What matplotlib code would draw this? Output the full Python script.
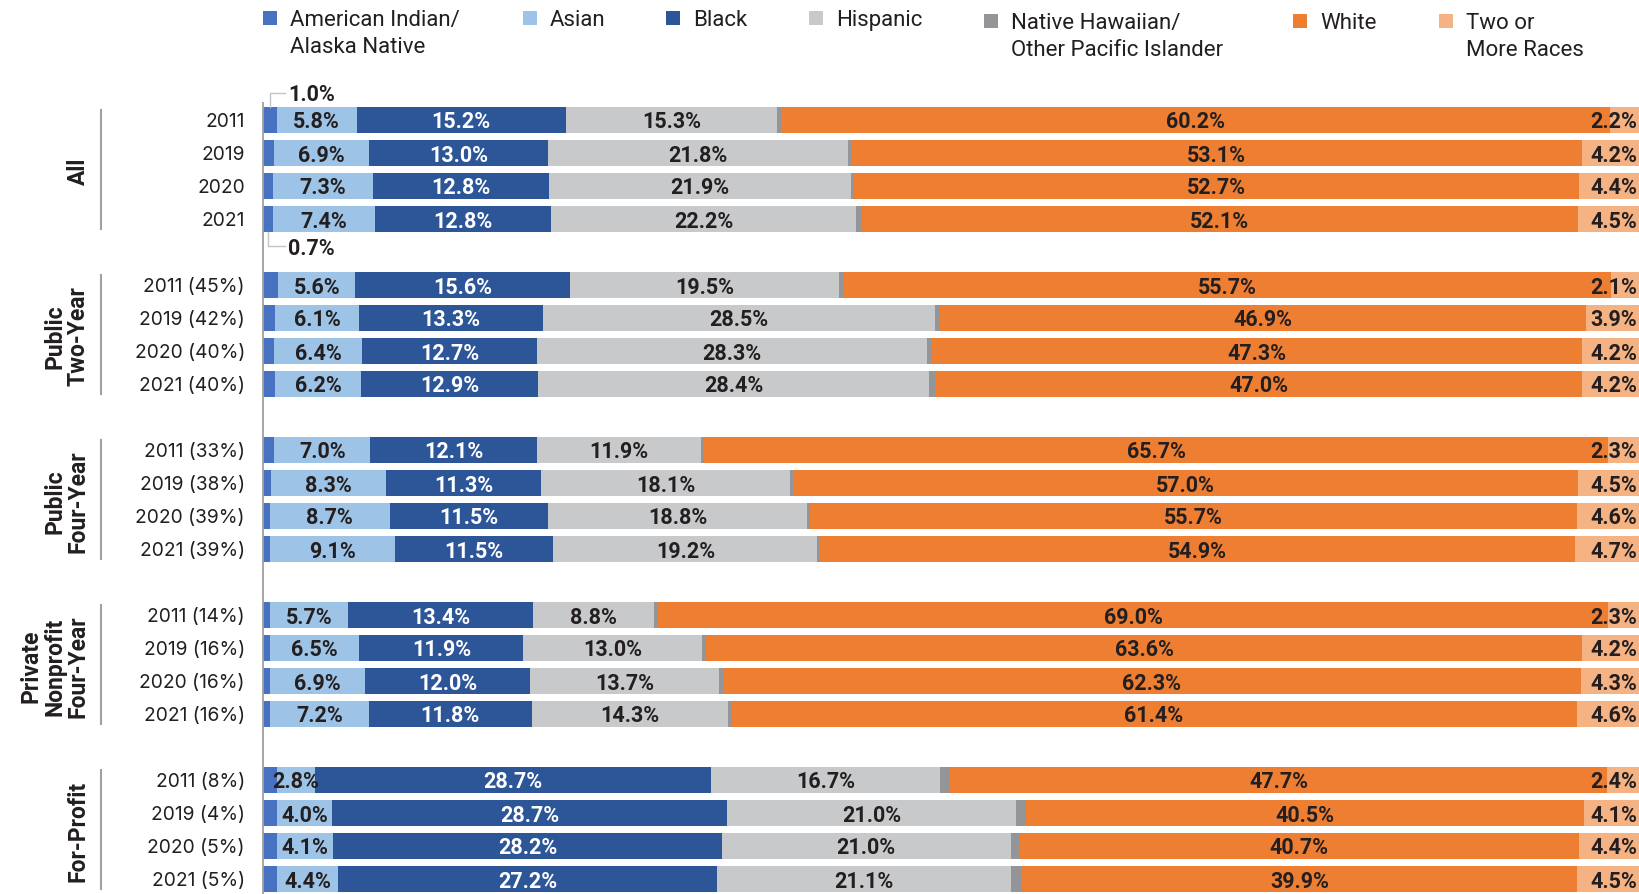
import matplotlib
matplotlib.use("Agg")
import matplotlib.pyplot as plt
from matplotlib.patches import Rectangle
import numpy as np

# ---------------- data ----------------
groups = ["All", "Public\nTwo-Year", "Public\nFour-Year", "Private\nNonprofit\nFour-Year", "For-Profit"]
row_labels = [
    "2011", "2019", "2020", "2021",
    "2011 (45%)", "2019 (42%)", "2020 (40%)", "2021 (40%)",
    "2011 (33%)", "2019 (38%)", "2020 (39%)", "2021 (39%)",
    "2011 (14%)", "2019 (16%)", "2020 (16%)", "2021 (16%)",
    "2011 (8%)", "2019 (4%)", "2020 (5%)", "2021 (5%)",
]
series_names = ["American Indian/\nAlaska Native", "Asian", "Black", "Hispanic",
                "Native Hawaiian/\nOther Pacific Islander", "White", "Two or\nMore Races"]

am_indian = [1.0, 0.8, 0.7, 0.7, 1.1, 0.9, 0.8, 0.9, 0.8, 0.6, 0.5, 0.5, 0.5, 0.5, 0.5, 0.5, 1.0, 1.0, 1.0, 1.0]
asian = [5.8, 6.9, 7.3, 7.4, 5.6, 6.1, 6.4, 6.2, 7.0, 8.3, 8.7, 9.1, 5.7, 6.5, 6.9, 7.2, 2.8, 4.0, 4.1, 4.4]
black = [15.2, 13.0, 12.8, 12.8, 15.6, 13.3, 12.7, 12.9, 12.1, 11.3, 11.5, 11.5, 13.4, 11.9, 12.0, 11.8, 28.7, 28.7, 28.2, 27.2]
hispanic = [15.3, 21.8, 21.9, 22.2, 19.5, 28.5, 28.3, 28.4, 11.9, 18.1, 18.8, 19.2, 8.8, 13.0, 13.7, 14.3, 16.7, 21.0, 21.0, 21.1]
nh_pi = [0.3, 0.2, 0.2, 0.3, 0.4, 0.4, 0.3, 0.4, 0.2, 0.2, 0.2, 0.2, 0.3, 0.3, 0.3, 0.2, 0.7, 0.7, 0.6, 0.8]
white = [60.2, 53.1, 52.7, 52.1, 55.7, 46.9, 47.3, 47.0, 65.7, 57.0, 55.7, 54.9, 69.0, 63.6, 62.3, 61.4, 47.7, 40.5, 40.7, 39.9]
two_more = [2.2, 4.2, 4.4, 4.5, 2.1, 3.9, 4.2, 4.2, 2.3, 4.5, 4.6, 4.7, 2.3, 4.2, 4.3, 4.6, 2.4, 4.1, 4.4, 4.5]

# ---------------- style ----------------
colors = ["#4672C1", "#9DC3E6", "#2C5697", "#C8C9CB", "#939598", "#EE7E31", "#F5B283"]
TXT = "#231F20"
plt.rcParams["font.family"] = ["Roboto", "DejaVu Sans"]
VAL_FS = 15.5

W, H = 1640, 894
fig = plt.figure(figsize=(W / 100, H / 100), dpi=100)

def fx(px):
    return px / W

def fy(py):
    return 1 - py / H

left_px = 263
ax = fig.add_axes([fx(left_px), 0, 1 - fx(left_px), 1])

series = [am_indian, asian, black, hispanic, nh_pi, white, two_more]
data = np.array(series, dtype=float)          # (7, 20)
totals = data.sum(axis=0)
widths = data / totals * 100

n_rows = len(row_labels)
slots = np.array([(i // 4) * 5 + (i % 4) for i in range(n_rows)], dtype=float)

slot0_px, slot_step = 120.0, 33.0
ax.set_xlim(0, 100)
ax.set_ylim((H - slot0_px) / slot_step, -slot0_px / slot_step)
ax.axis("off")

bar_h = 0.8
lefts = np.zeros(n_rows)
for k in range(len(series)):
    ax.barh(slots, widths[k], left=lefts, height=bar_h, color=colors[k], edgecolor="none")
    for i in range(n_rows):
        v = data[k][i]
        if k in (0, 4):
            pass
        elif k == 6:
            ax.text(99.8, slots[i], f"{v:.1f}%", ha="right", va="center_baseline",
                    fontsize=VAL_FS, fontweight="bold", color=TXT)
        else:
            c = "white" if k == 2 else TXT
            ax.text(lefts[i] + widths[k][i] / 2, slots[i], f"{v:.1f}%", ha="center",
                    va="center_baseline", fontsize=VAL_FS, fontweight="bold", color=c)
    lefts = lefts + widths[k]

# axis spine
ax.plot([0, 0], [-0.55, 24], color="#A0A0A0", lw=1.3, clip_on=False, solid_capstyle="butt")

# small-value call-outs for American Indian/Alaska Native
lc = "#C4C4C4"
ytop = -0.82
x0 = widths[0][0] / 2
ax.plot([x0, x0, 1.6], [slots[0] - bar_h / 2, ytop, ytop], color=lc, lw=1, clip_on=False)
ax.text(1.8, ytop, f"{am_indian[0]:.1f}%", ha="left", va="center_baseline",
        fontsize=VAL_FS, fontweight="bold", color=TXT)
ybot = 3.82
x3 = widths[0][3] / 2
ax.plot([x3, x3, 1.6], [slots[3] + bar_h / 2, ybot, ybot], color=lc, lw=1, clip_on=False)
ax.text(1.8, ybot, f"{am_indian[3]:.1f}%", ha="left", va="center_baseline",
        fontsize=VAL_FS, fontweight="bold", color=TXT)

# row labels
for i in range(n_rows):
    y_px = slot0_px + slots[i] * slot_step
    fig.text(fx(245), fy(y_px), row_labels[i], ha="right", va="center_baseline",
             fontsize=13.8, color=TXT, family=["Inter", "DejaVu Sans"])

# group labels + brackets
for g, name in enumerate(groups):
    s_top = g * 5 - 0.3
    s_bot = g * 5 + 3.3
    y1 = slot0_px + s_top * slot_step
    y2 = slot0_px + s_bot * slot_step
    fig.add_artist(plt.Line2D([fx(101.5), fx(101.5)], [fy(y1), fy(y2)], color="#A0A0A0", lw=1.5))
    fig.text(fx(90), fy((y1 + y2) / 2 + 2), name, rotation=90, ha="right", va="center",
             multialignment="center", fontsize=16.5, fontweight="bold", color=TXT, linespacing=1.05)

# legend
leg_x = [290, 550, 693, 836, 1011, 1320, 1466]
leg_y = [18, 18, 18, 18, 21, 21, 21]
sq = 14
for k in range(len(series_names)):
    cx = leg_x[k] - 20
    cy = leg_y[k]
    fig.add_artist(Rectangle((fx(cx - sq / 2), fy(cy + sq / 2)), sq / W, sq / H,
                             transform=fig.transFigure, color=colors[k], lw=0))
    lines = series_names[k].split("\n")
    for j, line in enumerate(lines):
        fig.text(fx(leg_x[k]), fy(cy + j * 27), line, ha="left", va="center_baseline",
                 fontsize=16, color=TXT)

fig.savefig("out.png", dpi=100)
